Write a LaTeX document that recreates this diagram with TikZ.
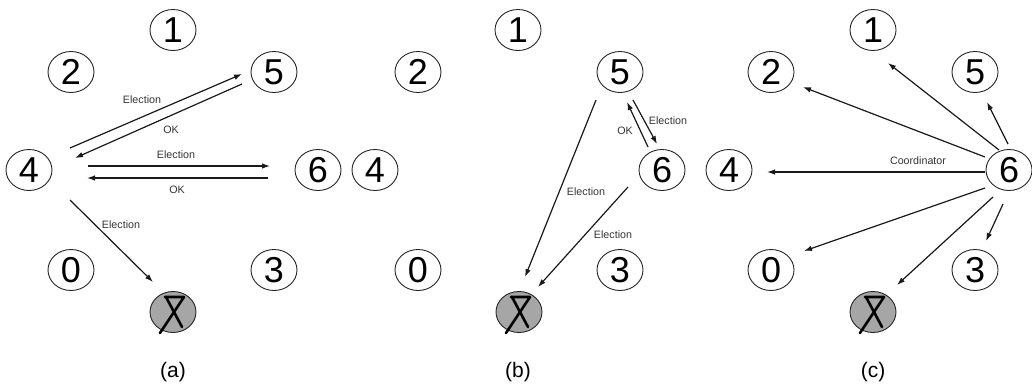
\documentclass[tikz,border=0pt]{standalone}
\usepackage{fontspec}
\setmainfont{Liberation Sans}
\usetikzlibrary{shapes.geometric,arrows.meta}

\tikzset{
  proc/.style={ellipse, draw=black!85, line width=0.9pt, inner sep=0pt,
    minimum width=46pt, minimum height=41pt, font=\fontsize{36}{36}\selectfont},
  dead/.style={proc, fill=black!35},
  crossstroke/.style={line width=2.6pt, line cap=round, line join=round},
  msg/.style={draw=black!90, line width=1.2pt, -{Latex[length=8pt,width=5.5pt]}},
  lbl/.style={font=\fontsize{10.7}{11}\selectfont, text=black!80, inner sep=0pt},
  caption/.style={font=\fontsize{21}{21}\selectfont, inner sep=0pt}
}

% crossed-out mark on a failed process
\newcommand{\failmark}[1]{%
  \draw[crossstroke] ([shift={(-8,-15)}]#1.center) -- ([shift={(11,-15)}]#1.center)
    -- ([shift={(-13,21)}]#1.center);
  \draw[crossstroke] ([shift={(-7,-15)}]#1.center) -- ([shift={(9,15)}]#1.center);
}

\begin{document}
\begin{tikzpicture}[x=1pt,y=-1pt]
\useasboundingbox (0,0) rectangle (1032,383);

% ---------- (a) ----------
\node[proc] (a1) at (173,30) {1};
\node[proc] (a2) at (71,72) {2};
\node[proc] (a5) at (274,72) {5};
\node[proc] (a4) at (29,170) {4};
\node[proc] (a6) at (318,170) {6};
\node[proc] (a0) at (71,270) {0};
\node[proc] (a3) at (274,270) {3};
\node[dead] (a7) at (173,312) {};
\failmark{a7}

\draw[msg] ([shift={(41,-22)}]a4.center) -- ([shift={(-32,2)}]a5.center);
\draw[msg] ([shift={(-32,12)}]a5.center) -- ([shift={(46,-12)}]a4.center);
\draw[msg] ([shift={(59,-4)}]a4.center) -- ([shift={(-48,-4)}]a6.center);
\draw[msg] ([shift={(-50,8)}]a6.center) -- ([shift={(58,8)}]a4.center);
\draw[msg] ([shift={(41,30)}]a4.center) -- ([shift={(-20,-30)}]a7.center);

\node[lbl] (la1) at (142,100) {Election};
\node[lbl] (la2) at (171,130) {OK};
\node[lbl] (la3) at (176,155) {Election};
\node[lbl] (la4) at (177,190) {OK};
\node[lbl] (la5) at (121,225) {Election};

\node[caption] (ca) at (173,372) {(a)};

% ---------- (b) ----------
\node[proc] (b1) at (518,30) {1};
\node[proc] (b2) at (418,72) {2};
\node[proc] (b5) at (620,72) {5};
\node[proc] (b4) at (375,170) {4};
\node[proc] (b6) at (662,170) {6};
\node[proc] (b0) at (418,270) {0};
\node[proc] (b3) at (620,270) {3};
\node[dead] (b7) at (519,312) {};
\failmark{b7}

\draw[msg] ([shift={(-24,28)}]b5.center) -- ([shift={(6,-35)}]b7.center);
\draw[msg] ([shift={(-34,17)}]b6.center) -- ([shift={(19,-25)}]b7.center);
\draw[msg] ([shift={(-14,-23)}]b6.center) -- ([shift={(7,30)}]b5.center);
\draw[msg] ([shift={(13,28)}]b5.center) -- ([shift={(-5,-26)}]b6.center);

\node[lbl] (lb1) at (668,121) {Election};
\node[lbl] (lb2) at (625,131) {OK};
\node[lbl] (lb3) at (586,192) {Election};
\node[lbl] (lb4) at (613,235) {Election};

\node[caption] (cb) at (518,372) {(b)};

% ---------- (c) ----------
\node[proc] (c1) at (873,30) {1};
\node[proc] (c2) at (771,72) {2};
\node[proc] (c5) at (975,72) {5};
\node[proc] (c4) at (729,170) {4};
\node[proc] (c6) at (1009,170) {6};
\node[proc] (c0) at (771,270) {0};
\node[proc] (c3) at (975,270) {3};
\node[dead] (c7) at (873,312) {};
\failmark{c7}

\draw[msg] ([shift={(-10,-20)}]c6.center) -- ([shift={(15,33)}]c1.center);
\draw[msg] ([shift={(-24,-13)}]c6.center) -- ([shift={(32,15)}]c2.center);
\draw[msg] ([shift={(-1,-26)}]c6.center) -- ([shift={(12,30)}]c5.center);
\draw[msg] ([shift={(-24,2)}]c6.center) -- ([shift={(38,2)}]c4.center);
\draw[msg] ([shift={(-24,18)}]c6.center) -- ([shift={(33,-19)}]c0.center);
\draw[msg] ([shift={(-16,27)}]c6.center) -- ([shift={(24,-27)}]c7.center);
\draw[msg] ([shift={(-6,34)}]c6.center) -- ([shift={(11,-29)}]c3.center);

\node[lbl] (lc1) at (918,161) {Coordinator};

\node[caption] (cc) at (873,372) {(c)};
\end{tikzpicture}
\end{document}
